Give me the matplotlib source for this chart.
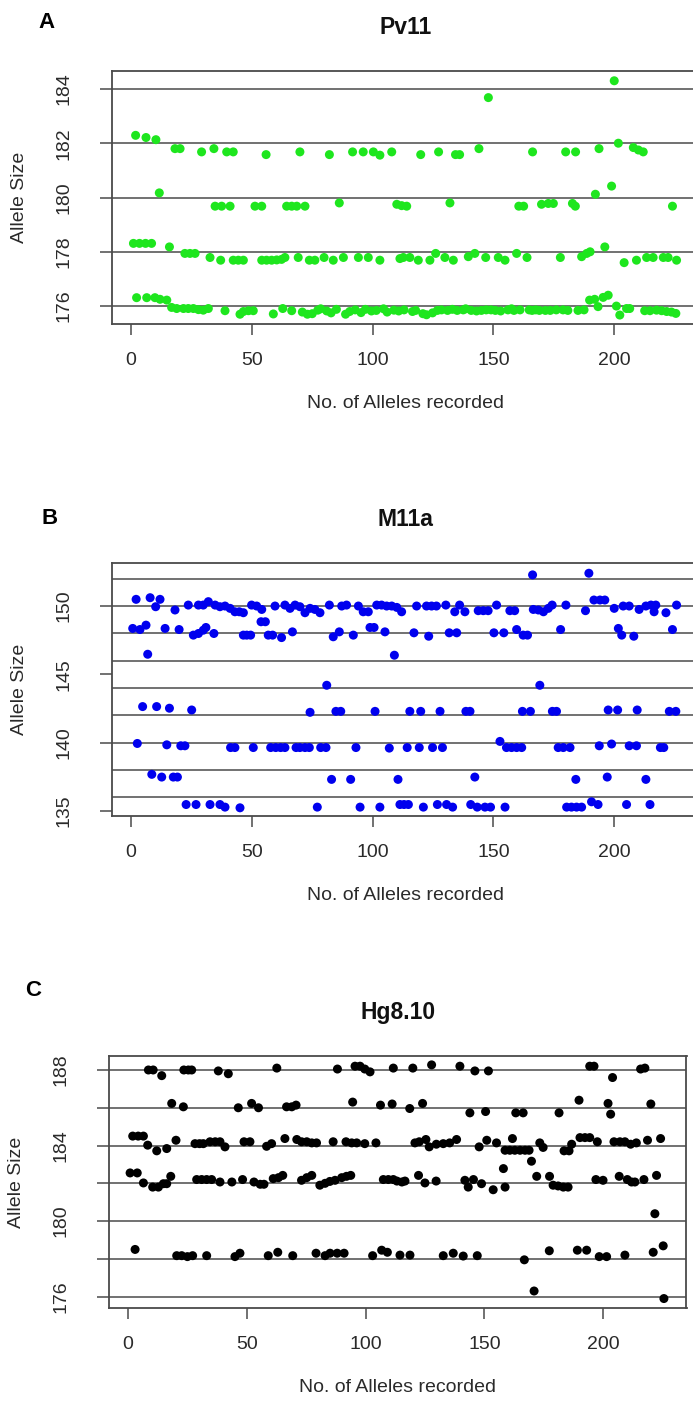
import matplotlib
matplotlib.use("Agg")
import matplotlib.pyplot as plt

W, H = 693, 1401
LINE = "#4a4a4a"
TXT = "#2a2a2a"
plt.rcParams["font.family"] = ["Liberation Sans", "DejaVu Sans"]

# ---- A: Pv11 (index of allele recorded, allele size) ----
pv11_idx = [
    147.9, 200,
    1.9, 6.2, 10.3, 18.2, 20.3, 29.2, 34.3, 39.6, 42.3, 55.9, 69.9, 82.1, 91.7, 96.1, 100.3, 103, 107.9,
    119.9, 127.3, 134.3, 136, 144, 166.2, 179.9, 184, 193.7, 201.7, 207.9, 210, 212,
    11.7, 34.8, 37.5, 41, 51.3, 54.1, 64.4, 66.5, 68.6, 72, 86.2, 110, 112, 114.1, 132, 160.5, 162.5,
    169.9, 172.7, 174.8, 182.7, 183.9, 192.2, 198.9, 224.1,
    1, 3.5, 6, 8.5, 15.9, 22.3, 24.4, 26.5, 32.7, 37.1, 42.3, 44.4, 46.5, 54.1, 56.1, 58.2, 60.3, 62.3,
    63.7, 69.2, 73.8, 76.1, 79.9, 83.7, 87.9, 94.1, 98.2, 103, 111.3, 112.7, 115.4, 118.9, 123.7, 126.1,
    129.9, 133.4, 139.6, 142.3, 146.8, 152, 154.8, 159.6, 163.9, 177.7, 186.5, 188.6, 190, 196.1, 204.1,
    209.2, 213.4, 216.1, 220.3, 222.3, 225.8,
    2.3, 6.5, 9.9, 12, 14.8, 16.8, 18.9, 21.7, 23.7, 25.8, 27.9, 29.9, 32, 38.9, 45.1, 46.5, 48.6, 50.6,
    58.9, 62.8, 66.5, 70.9, 73, 75, 77.3, 78.5, 81, 82.8, 85, 88.8, 90.5, 92.8, 95.2, 97, 99.5, 101.5,
    104.5, 106, 108.8, 110.8, 113, 116.5, 117.8, 120.8, 122.3, 124.8, 126.8, 128.5, 131, 133, 135, 137.5,
    138.5, 140.8, 143, 145, 147, 149, 150.8, 153, 156, 157.5, 158.5, 161, 164.8, 166, 167.5, 169, 171.5,
    173.5, 176, 178.8, 180.8, 185, 187.5, 189.8, 191.9, 193.3, 195.4, 197.5, 200.9, 202.3, 205.1, 206.4,
    212.6, 214.8, 217.5, 219.6, 221.7, 223.7, 225.5,
]
pv11_size = [
    183.68, 184.3,
    182.29, 182.21, 182.13, 181.8, 181.8, 181.68, 181.8, 181.68, 181.68, 181.58, 181.68, 181.58, 181.68,
    181.68, 181.68, 181.56, 181.68,
    181.58, 181.68, 181.58, 181.58, 181.8, 181.68, 181.68, 181.68, 181.8, 182.0, 181.84, 181.75, 181.68,
    180.17, 179.68, 179.68, 179.68, 179.68, 179.68, 179.68, 179.68, 179.68, 179.68, 179.8, 179.75, 179.7,
    179.68, 179.8, 179.68, 179.68, 179.75, 179.78, 179.78, 179.78, 179.68, 180.12, 180.42, 179.68,
    178.31, 178.31, 178.31, 178.31, 178.18, 177.94, 177.94, 177.94, 177.79, 177.69, 177.69, 177.69,
    177.69, 177.69, 177.69, 177.69, 177.7, 177.72, 177.79, 177.79, 177.69, 177.69, 177.79, 177.69,
    177.79, 177.79, 177.79, 177.69, 177.75, 177.79, 177.79, 177.69, 177.69, 177.94, 177.79, 177.69,
    177.82, 177.94, 177.79, 177.79, 177.69, 177.94, 177.79, 177.79, 177.82, 177.94, 178.0, 178.18,
    177.6, 177.69, 177.79, 177.79, 177.79, 177.79, 177.69,
    176.31, 176.31, 176.31, 176.25, 176.22, 175.95, 175.91, 175.91, 175.91, 175.91, 175.87, 175.85,
    175.91, 175.83, 175.7, 175.8, 175.83, 175.83, 175.71, 175.91, 175.83, 175.78, 175.7, 175.72, 175.85,
    175.9, 175.82, 175.75, 175.88, 175.7, 175.8, 175.86, 175.76, 175.88, 175.82, 175.84, 175.9, 175.78,
    175.85, 175.82, 175.86, 175.8, 175.84, 175.72, 175.68, 175.75, 175.84, 175.86, 175.84, 175.88,
    175.84, 175.86, 175.9, 175.84, 175.82, 175.84, 175.86, 175.86, 175.84, 175.82, 175.86, 175.9,
    175.84, 175.86, 175.86, 175.84, 175.86, 175.84, 175.84, 175.84, 175.86, 175.86, 175.84, 175.84,
    175.86, 176.22, 176.25, 175.98, 176.32, 176.4, 176.0, 175.67, 175.91, 175.91, 175.83, 175.83,
    175.85, 175.83, 175.8, 175.78, 175.73,
]

# ---- B: M11a ----
m11a_idx = [
    166.2, 189.5,
    2.1, 7.9, 10.2, 12, 18.2, 23.7, 27.9, 29.9, 32, 34.8, 36.8, 38.9, 41, 43, 44.8, 46.5, 49.9, 52, 54.1,
    59.6, 63.7, 65.8, 67.9, 69.9, 72, 74.1, 76.1, 78.2, 82.1, 87.2, 89.2, 94.1, 96.1, 98.2, 101.7, 103.7,
    105.8, 107.9, 110, 112, 118.2, 122.3, 124.4, 126.4, 130.3, 134, 136, 138.2, 143.7, 145.8, 147.8,
    151.3, 156.8, 158.8, 166.5, 168.6, 170.7, 172.7, 174.3, 180, 188.1, 191.6, 194.1, 196.1, 200, 203.7,
    206.2, 210.3, 213.1, 215.2, 216.5, 217.2, 221.4, 225.8,
    0.7, 3.7, 6.2, 14.1, 19.9, 25.8, 27.9, 29.9, 31, 34.3, 46.5, 47.9, 49.5, 53.8, 55.6, 56.8, 58.6,
    62.3, 66.8, 83.7, 86.2, 92, 98.9, 100.6, 105.1, 117.1, 123.2, 131.7, 134.8, 150.2, 154.3, 159.6,
    162.3, 164.1, 177.8, 201.7, 203.1, 208.1, 224.1,
    6.9, 109, 81, 169.2,
    4.8, 10.6, 15.9, 25.1, 74.1, 84.8, 86.8, 101, 115.4, 119.9, 127.9, 138.6, 140.3, 162, 165.3, 174.4,
    176.1, 197.5, 201.4, 209.5, 222.8, 225.5,
    2.6, 14.8, 20.6, 22.3, 41.2, 43, 50.6, 57.8, 59.9, 61.9, 63.7, 68.3, 69.9, 72, 73.8, 78.5, 80.7,
    93.1, 106.9, 114.3, 119.3, 124.8, 128.9, 152.7, 155.4, 157.5, 159.6, 161.7, 176.8, 178.9, 181.7,
    193.8, 198.9, 206.2, 209.2, 219.1, 220.5,
    8.6, 12.7, 17.5, 19.2, 83, 90.9, 110.5, 142.3, 184.1, 197.1, 213.1,
    22.8, 26.9, 32.7, 36.8, 38.9, 45.1, 77.1, 94.8, 103, 111.3, 113, 114.8, 121, 126.8, 130.6, 133.1,
    140.6, 143.3, 146.5, 148.8, 154.8, 180.3, 182.3, 184.4, 186.5, 190.6, 193.3, 205.1, 214.8,
]
m11a_size = [
    152.28, 152.4,
    150.49, 150.61, 149.95, 150.49, 149.71, 150.07, 150.07, 150.07, 150.32, 150.07, 149.95, 150.0,
    149.83, 149.58, 149.58, 149.51, 150.07, 150.0, 149.75, 150.0, 150.07, 149.83, 150.07, 149.95,
    149.51, 149.83, 149.75, 149.51, 150.07, 150.0, 150.07, 150.0, 149.58, 149.58, 150.07, 150.07,
    150.0, 150.0, 149.9, 149.58, 150.0, 150.0, 150.0, 150.0, 150.07, 149.58, 150.07, 149.58, 149.66,
    149.66, 149.66, 150.07, 149.66, 149.66, 149.75, 149.71, 149.58, 149.83, 150.07, 150.07, 149.66,
    150.44, 150.44, 150.44, 149.83, 150.0, 150.0, 149.75, 150.0, 150.07, 149.58, 150.07, 149.51,
    150.07,
    148.36, 148.28, 148.6, 148.36, 148.28, 147.87, 147.99, 148.23, 148.43, 147.99, 147.87, 147.87,
    147.87, 148.85, 148.85, 147.87, 147.87, 147.69, 148.11, 147.75, 148.11, 147.87, 148.43, 148.43,
    148.11, 148.04, 147.79, 148.04, 148.04, 148.04, 148.04, 148.28, 147.87, 147.87, 148.28, 148.36,
    147.87, 147.79, 148.28,
    146.47, 146.4, 144.2, 144.2,
    142.64, 142.64, 142.52, 142.39, 142.22, 142.29, 142.29, 142.29, 142.29, 142.29, 142.29, 142.29,
    142.29, 142.29, 142.29, 142.29, 142.29, 142.39, 142.39, 142.39, 142.29, 142.29,
    139.94, 139.84, 139.77, 139.77, 139.64, 139.64, 139.64, 139.64, 139.64, 139.64, 139.64, 139.64,
    139.64, 139.64, 139.64, 139.64, 139.64, 139.64, 139.6, 139.64, 139.64, 139.64, 139.64, 140.09,
    139.64, 139.64, 139.64, 139.64, 139.64, 139.64, 139.64, 139.77, 139.9, 139.77, 139.77, 139.64,
    139.64,
    137.68, 137.48, 137.48, 137.48, 137.31, 137.31, 137.31, 137.48, 137.31, 137.48, 137.31,
    135.47, 135.47, 135.47, 135.47, 135.28, 135.23, 135.28, 135.28, 135.28, 135.47, 135.47, 135.47,
    135.28, 135.47, 135.47, 135.28, 135.47, 135.28, 135.28, 135.28, 135.28, 135.28, 135.28, 135.28,
    135.28, 135.67, 135.47, 135.47, 135.47,
]

# ---- C: Hg8.10 ----
hg810_idx = [
    8.7, 10.7, 14.3, 23.6, 25.5, 26.9, 38.1, 42.3, 62.7, 88.2, 95.6, 97.7, 99.7, 101.9, 111.7, 119.9,
    127.8, 139.7, 146, 151.7, 194.3, 196.1, 203.9, 215.7, 217.5,
    18.5, 23.4, 46.5, 52.1, 55, 66.8, 69, 70.8, 94.6, 106.3, 111.2, 118.6, 124, 143.9, 150.5, 163.2,
    166.3, 181.4, 189.8, 202, 203.1, 220,
    2.1, 4.4, 6.6, 8.4, 12.2, 16.4, 20.3, 28.3, 30.2, 31.8, 34.6, 36.8, 38.8, 40.9, 48.9, 51.4, 58.4,
    60.5, 66.1, 71.1, 73.1, 75.3, 77.4, 79.4, 86.4, 91.8, 94.2, 96.3, 99.7, 104.4, 120.8, 122.6, 125.4,
    126.8, 129.8, 132.7, 135.4, 138.3, 147.8, 151, 155.1, 158.7, 160.7, 162.8, 165, 167.1, 168.8, 161.8,
    169.8, 173.3, 174.7, 183.5, 185.6, 186.7, 190.2, 192.3, 194.3, 197.5, 204.5, 207, 209.1, 211.5,
    213.9, 218.6, 224.1, 158,
    1, 4, 6.6, 10.5, 12.9, 15, 16.4, 18.1, 29, 31.1, 33.2, 35.3, 38.8, 43.8, 48.3, 53.1, 55.7, 57.3,
    61.2, 63.4, 65.2, 73.1, 75.3, 77.4, 80.8, 83, 85, 87.2, 90, 92, 93.8, 107.5, 109.6, 111.7, 113.2,
    115.3, 116.6, 122.3, 125, 129.7, 141.8, 143.2, 145.4, 148.8, 153.7, 158.7, 172, 177.4, 178.9, 181,
    183.2, 185.2, 196.9, 199.9, 206.7, 210.1, 211.9, 213.3, 217.1, 222.4, 221.7,
    3.1, 20.6, 22.7, 25.1, 27.3, 33.2, 45.1, 47.2, 59.1, 63.1, 69.4, 79.2, 83, 85.1, 88.1, 91, 103,
    106.8, 109.2, 114.5, 118.7, 132.7, 136.9, 141.1, 147, 166.8, 177.3, 189.1, 193, 198.3, 201.4,
    209.1, 221, 225.2,
    170.9, 225.5,
]
hg810_size = [
    188.0, 188.0, 187.7, 188.0, 188.0, 188.0, 187.95, 187.8, 188.1, 188.05, 188.2, 188.2, 188.05,
    187.9, 188.1, 188.1, 188.27, 188.2, 187.95, 187.95, 188.2, 188.2, 187.6, 188.05, 188.1,
    186.23, 186.05, 186.0, 186.23, 186.0, 186.05, 186.05, 186.14, 186.3, 186.14, 186.2, 185.96,
    186.23, 185.73, 185.8, 185.73, 185.73, 185.73, 186.4, 186.23, 185.66, 186.2,
    184.5, 184.5, 184.5, 184.02, 183.72, 183.84, 184.28, 184.1, 184.1, 184.1, 184.2, 184.2, 184.2,
    183.93, 184.2, 184.2, 183.96, 184.1, 184.37, 184.32, 184.2, 184.2, 184.14, 184.14, 184.2, 184.2,
    184.14, 184.14, 184.1, 184.14, 184.14, 184.2, 184.32, 183.93, 184.07, 184.1, 184.14, 184.32,
    183.93, 184.28, 184.14, 183.75, 183.75, 183.75, 183.75, 183.75, 183.75, 184.37, 183.17, 184.14,
    183.9, 183.72, 183.72, 184.07, 184.42, 184.42, 184.42, 184.2, 184.2, 184.2, 184.2, 184.07, 184.14,
    184.28, 184.37, 182.78,
    182.55, 182.55, 182.02, 181.8, 181.8, 181.98, 181.98, 182.37, 182.2, 182.2, 182.2, 182.2, 182.07,
    182.07, 182.2, 182.07, 181.95, 181.95, 182.25, 182.3, 182.42, 182.16, 182.3, 182.42, 181.9, 182.0,
    182.1, 182.16, 182.3, 182.37, 182.42, 182.2, 182.2, 182.2, 182.12, 182.07, 182.12, 182.42, 182.02,
    182.12, 182.16, 181.8, 182.2, 181.98, 181.66, 181.8, 182.37, 182.37, 181.9, 181.86, 181.8, 181.8,
    182.2, 182.16, 182.37, 182.2, 182.07, 182.07, 182.2, 182.42, 180.39,
    178.5, 178.17, 178.17, 178.12, 178.17, 178.17, 178.12, 178.3, 178.17, 178.35, 178.17, 178.3,
    178.17, 178.3, 178.3, 178.3, 178.17, 178.46, 178.35, 178.2, 178.2, 178.17, 178.3, 178.15, 178.17,
    177.95, 178.43, 178.46, 178.46, 178.12, 178.12, 178.2, 178.35, 178.69,
    176.3, 175.9,
]

X_TICKS = [0, 50, 100, 150, 200]

fig = plt.figure(figsize=(W / 100, H / 100), dpi=100)


def px_axes(left, top, right, bottom):
    return fig.add_axes([left / W, 1 - bottom / H, (right - left) / W, (bottom - top) / H])


def panel(ax, idx, size, color, hlines, yticks, ylabels, ylim, title):
    ax.set_xlim(-8, 235)
    ax.set_ylim(*ylim)
    for h in hlines:
        ax.axhline(h, color=LINE, lw=1.1, zorder=1)
    ax.scatter(idx, size, s=42, color=color, edgecolors="none", zorder=3)
    ax.set_xticks(X_TICKS)
    ax.set_yticks(yticks)
    ax.set_yticklabels(ylabels, rotation=90, va="center")
    ax.tick_params(axis="x", length=8, width=1.1, color=LINE, pad=12, labelsize=14, labelcolor=TXT)
    ax.tick_params(axis="y", length=9, width=1.1, color=LINE, pad=19, labelsize=14, labelcolor=TXT)
    for sp in ax.spines.values():
        sp.set_color(LINE)
        sp.set_linewidth(1.3)
    ax.annotate("No. of Alleles recorded", xy=(0.5, 0), xycoords="axes fraction",
                xytext=(0, -80), textcoords="offset pixels", ha="center", va="center",
                fontsize=14, color=TXT)
    ax.annotate("Allele Size", xy=(0, 0.5), xycoords="axes fraction",
                xytext=(-92, 0), textcoords="offset pixels", ha="center", va="center",
                rotation=90, fontsize=14, color=TXT)
    ax.annotate(title, xy=(0.5, 1), xycoords="axes fraction",
                xytext=(0, 44), textcoords="offset pixels", ha="center", va="center",
                fontsize=16.5, fontweight="bold", color="#111111")


axA = px_axes(111.7, 71, 698.8, 324)
panel(axA, pv11_idx, pv11_size, "#1ee61e", [176, 178, 180, 182, 184],
      [176, 178, 180, 182, 184], ["176", "178", "180", "182", "184"], (175.34, 184.66), "Pv11")

axB = px_axes(111.7, 563, 698.8, 816)
panel(axB, m11a_idx, m11a_size, "#0000ee", [136, 138, 140, 142, 144, 146, 148, 150, 152],
      [135, 140, 145, 150], ["135", "140", "145", "150"], (134.63, 153.15), "M11a")

axC = px_axes(108.7, 1056, 686.5, 1308)
panel(axC, hg810_idx, hg810_size, "#000000", [176, 178, 180, 182, 184, 186, 188],
      [176, 178, 180, 182, 184, 186, 188], ["176", "", "180", "", "184", "", "188"],
      (175.4, 188.74), "Hg8.10")

for letter, x, y in [("A", 46, 23), ("B", 50, 519), ("C", 33, 991)]:
    fig.text(x / W, 1 - y / H, letter, ha="center", va="center", fontsize=16, fontweight="bold")

fig.savefig("out.png", dpi=100)
